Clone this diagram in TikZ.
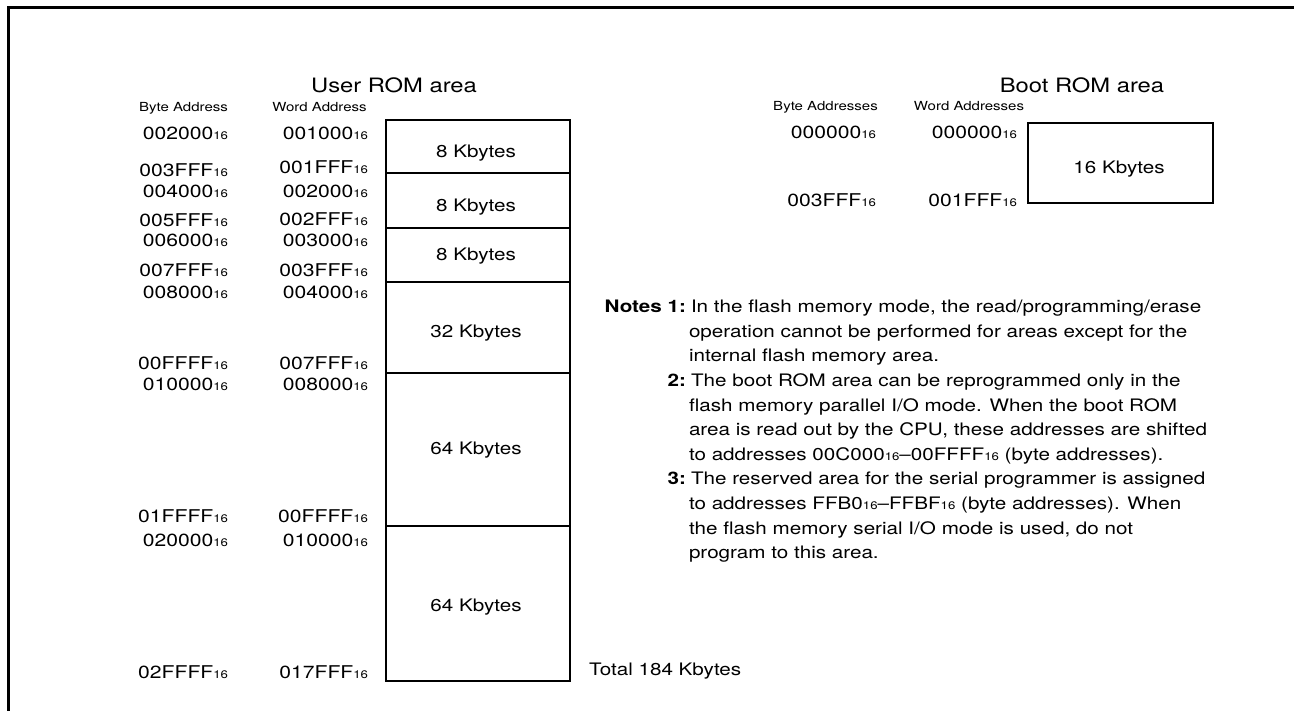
\documentclass[tikz,border=0pt]{standalone}
\usepackage{fontspec}
\setmainfont{TeX Gyre Heros}[FakeStretch=1.2]
\newcommand\hexn[1]{#1{\fontsize{11}{11}\selectfont 16}}
\tikzset{
  txt/.style={inner sep=0pt, outer sep=0pt},
  addr/.style={txt, anchor=base east, font=\fontsize{17.6}{20}\selectfont},
  hdr/.style={txt, anchor=base, font=\fontsize{12.5}{14}\selectfont},
  ttl/.style={txt, anchor=base, font=\fontsize{19.8}{24}\selectfont},
  memrow/.style={draw, line width=2.8pt, minimum width=184pt, inner sep=0pt, outer sep=0pt},
  lbl/.style={txt, anchor=base, font=\fontsize{17.2}{20}\selectfont},
  note/.style={txt, anchor=base west, font=\fontsize{17.2}{20}\selectfont},
  noteno/.style={txt, anchor=base east, font=\bfseries\fontsize{17.2}{20}\selectfont},
}
\begin{document}
\begin{tikzpicture}[x=1pt, y=-1pt]
\useasboundingbox (0,0) rectangle (1294,710);
\fill[white] (0,0) rectangle (1294,710);
% frame
\draw[line width=3pt, line join=miter] (8,712) -- (8,7) -- (1296,7);

% titles
\node[ttl] (tuser) at (394,92) {User ROM area};
\node[ttl] (tboot) at (1082,92) {Boot ROM area};

% user ROM headers
\node[hdr] (hbyte) at (183.5,111) {Byte Address};
\node[hdr] (hword) at (319.5,111) {Word Address};

% user ROM rows
\node[memrow, minimum height=53pt]  (r1) at (478,146.5) {};
\node[memrow, minimum height=55pt]  (r2) at (478,200.5) {};
\node[memrow, minimum height=54pt]  (r3) at (478,255) {};
\node[memrow, minimum height=91pt]  (r4) at (478,327.5) {};
\node[memrow, minimum height=153pt] (r5) at (478,449.5) {};
\node[memrow, minimum height=155pt] (r6) at (478,603.5) {};
\node[lbl] (l1) at (476,157) {8 Kbytes};
\node[lbl] (l2) at (476,211) {8 Kbytes};
\node[lbl] (l3) at (476,260) {8 Kbytes};
\node[lbl] (l4) at (476,337) {32 Kbytes};
\node[lbl] (l5) at (476,454) {64 Kbytes};
\node[lbl] (l6) at (476,611) {64 Kbytes};

% user ROM addresses
\node[addr] (b1)  at (228,139.5) {\hexn{002000}};
\node[addr] (w1)  at (368,139.5) {\hexn{001000}};
\node[addr] (b2)  at (228,176.5) {\hexn{003FFF}};
\node[addr] (w2)  at (368,173.5) {\hexn{001FFF}};
\node[addr] (b3)  at (228,197.3) {\hexn{004000}};
\node[addr] (w3)  at (368,197.3) {\hexn{002000}};
\node[addr] (b4)  at (228,226.5) {\hexn{005FFF}};
\node[addr] (w4)  at (368,225) {\hexn{002FFF}};
\node[addr] (b5)  at (228,246.5) {\hexn{006000}};
\node[addr] (w5)  at (368,246.5) {\hexn{003000}};
\node[addr] (b6)  at (228,276.5) {\hexn{007FFF}};
\node[addr] (w6)  at (368,276.5) {\hexn{003FFF}};
\node[addr] (b7)  at (228,298) {\hexn{008000}};
\node[addr] (w7)  at (368,298) {\hexn{004000}};
\node[addr] (b8)  at (228,369) {\hexn{00FFFF}};
\node[addr] (w8)  at (368,369) {\hexn{007FFF}};
\node[addr] (b9)  at (228,390) {\hexn{010000}};
\node[addr] (w9)  at (368,390) {\hexn{008000}};
\node[addr] (b10) at (228,522.5) {\hexn{01FFFF}};
\node[addr] (w10) at (368,522.5) {\hexn{00FFFF}};
\node[addr] (b11) at (228,546.5) {\hexn{020000}};
\node[addr] (w11) at (368,546.5) {\hexn{010000}};
\node[addr] (b12) at (228,678) {\hexn{02FFFF}};
\node[addr] (w12) at (368,678) {\hexn{017FFF}};

\node[lbl, anchor=base west] (total) at (589,675) {Total 184 Kbytes};

% boot ROM
\node[hdr] (bhbyte) at (825.5,110.5) {Byte Addresses};
\node[hdr] (bhword) at (969,110.5) {Word Addresses};
\node[memrow, minimum width=185pt, minimum height=80pt] (boot) at (1120.5,163) {};
\node[lbl] (lboot) at (1119,173) {16 Kbytes};
\node[addr] (bb1) at (876,138.3) {\hexn{000000}};
\node[addr] (bw1) at (1017,138.3) {\hexn{000000}};
\node[addr] (bb2) at (876,206.5) {\hexn{003FFF}};
\node[addr] (bw2) at (1017,206.5) {\hexn{001FFF}};

% notes
\node[noteno] (n1k) at (686,312.7) {Notes 1:};
\node[note] (n1a) at (691,312.7) {In the flash memory mode, the read/programming/erase};
\node[note] (n1b) at (689,337.3) {operation cannot be performed for areas except for the};
\node[note] (n1c) at (689,361.9) {internal flash memory area.};
\node[noteno] (n2k) at (686,386.5) {2:};
\node[note] (n2a) at (691,386.5) {The boot ROM area can be reprogrammed only in the};
\node[note] (n2b) at (689,411.1) {flash memory parallel I/O mode. When the boot ROM};
\node[note] (n2c) at (689,435.7) {area is read out by the CPU, these addresses are shifted};
\node[note] (n2d) at (689,460.3) {to addresses \hexn{00C000}–\hexn{00FFFF} (byte addresses).};
\node[noteno] (n3k) at (686,484.9) {3:};
\node[note] (n3a) at (691,484.9) {The reserved area for the serial programmer is assigned};
\node[note] (n3b) at (689,509.5) {to addresses \hexn{FFB0}–\hexn{FFBF} (byte addresses). When};
\node[note] (n3c) at (689,534.1) {the flash memory serial I/O mode is used, do not};
\node[note] (n3d) at (689,558.7) {program to this area.};
\end{tikzpicture}
\end{document}
